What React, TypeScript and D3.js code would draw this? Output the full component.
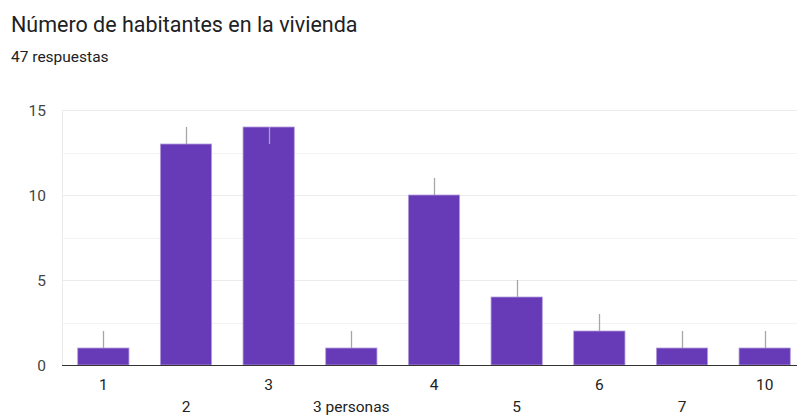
import * as d3 from "d3";
import { useEffect, useRef } from "react";

const categories = ["1", "2", "3", "3 personas", "4", "5", "6", "7", "10"];
const counts = [1, 13, 14, 1, 10, 4, 2, 1, 1];
const intervalLow = [1, 13, 13, 1, 10, 4, 2, 1, 1];
const intervalHigh = [2, 14, 14, 2, 11, 5, 3, 2, 2];
const yTicks = [0, 5, 10, 15];
const minorTicks = [2.5, 7.5, 12.5];

const W = 797;
const H = 416;

export default function App() {
  const ref = useRef<SVGSVGElement | null>(null);

  useEffect(() => {
    if (!ref.current) return;
    const svg = d3.select(ref.current);
    svg.selectAll("*").remove();

    const rows = categories.map((c, i) => ({
      cat: c,
      v: counts[i],
      lo: intervalLow[i],
      hi: intervalHigh[i],
    }));

    const left = 62;
    const x = d3.scaleBand().domain(categories).range([left, 806]).paddingInner(0.38).paddingOuter(0.19);
    const y = d3.scaleLinear().domain([0, 15]).range([365, 110]);

    const font = "Roboto, Arial, sans-serif";

    svg
      .append("text")
      .attr("x", 11)
      .attr("y", 32)
      .attr("fill", "#202124")
      .style("font-family", font)
      .style("font-size", "21.5px")
      .text("Número de habitantes en la vivienda");

    svg
      .append("text")
      .attr("x", 11)
      .attr("y", 62)
      .attr("fill", "#202124")
      .style("font-family", font)
      .style("font-size", "15.5px")
      .text("47 respuestas");

    const grid = svg.append("g");
    grid
      .selectAll("line.minor")
      .data(minorTicks)
      .join("line")
      .attr("x1", left)
      .attr("x2", W)
      .attr("y1", (d) => Math.round(y(d)) + 0.5)
      .attr("y2", (d) => Math.round(y(d)) + 0.5)
      .attr("stroke", "#f3f3f3");
    grid
      .selectAll("line.major")
      .data(yTicks.filter((t) => t > 0))
      .join("line")
      .attr("x1", left)
      .attr("x2", W)
      .attr("y1", (d) => Math.round(y(d)) + 0.5)
      .attr("y2", (d) => Math.round(y(d)) + 0.5)
      .attr("stroke", "#ebebeb");
    grid
      .append("line")
      .attr("x1", left + 0.5)
      .attr("x2", left + 0.5)
      .attr("y1", y(15))
      .attr("y2", y(0))
      .attr("stroke", "#ebebeb");

    svg
      .append("g")
      .selectAll("text")
      .data(yTicks)
      .join("text")
      .attr("x", 46)
      .attr("y", (d) => y(d) + 5.5)
      .attr("text-anchor", "end")
      .attr("fill", "#444")
      .style("font-family", font)
      .style("font-size", "15.5px")
      .text((d) => d);

    svg
      .append("g")
      .selectAll("rect")
      .data(rows)
      .join("rect")
      .attr("x", (d) => x(d.cat) ?? 0)
      .attr("y", (d) => y(d.v))
      .attr("width", x.bandwidth())
      .attr("height", (d) => y(0) - y(d.v))
      .attr("fill", "#673ab7")
      .attr("stroke", "#b39ddb")
      .attr("stroke-width", 0.8);

    svg
      .append("g")
      .selectAll("line")
      .data(rows)
      .join("line")
      .attr("x1", (d) => Math.round((x(d.cat) ?? 0) + x.bandwidth() / 2) + 0.5)
      .attr("x2", (d) => Math.round((x(d.cat) ?? 0) + x.bandwidth() / 2) + 0.5)
      .attr("y1", (d) => y(d.lo))
      .attr("y2", (d) => y(d.hi))
      .attr("stroke", "#a6a6a6")
      .attr("stroke-width", 1.3);

    svg
      .append("line")
      .attr("x1", left)
      .attr("x2", W)
      .attr("y1", y(0) + 0.5)
      .attr("y2", y(0) + 0.5)
      .attr("stroke", "#333")
      .attr("stroke-width", 1.2);

    svg
      .append("g")
      .selectAll("text")
      .data(rows)
      .join("text")
      .attr("x", (d) => (x(d.cat) ?? 0) + x.bandwidth() / 2)
      .attr("y", (_d, i) => (i % 2 === 0 ? 390 : 412))
      .attr("text-anchor", "middle")
      .attr("fill", "#222")
      .style("font-family", font)
      .style("font-size", "15.5px")
      .text((d) => d.cat);
  }, []);

  return (
    <svg
      ref={ref}
      width={W}
      height={H}
      style={{ position: "absolute", left: 0, top: 0, background: "#fff", display: "block" }}
    />
  );
}
